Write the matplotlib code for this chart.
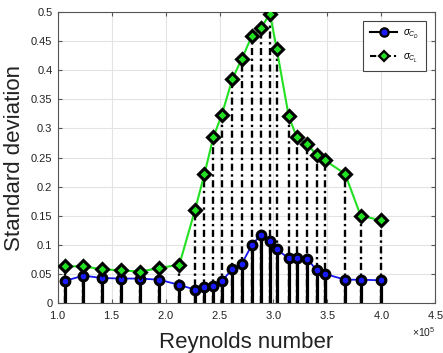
import numpy as np
import matplotlib
matplotlib.use("Agg")
import matplotlib.pyplot as plt
from matplotlib.ticker import ScalarFormatter

plt.rcParams['font.family'] = ['Liberation Sans', 'DejaVu Sans']
plt.rcParams['mathtext.fontset'] = 'custom'
plt.rcParams['mathtext.rm'] = 'Liberation Sans'
plt.rcParams['mathtext.it'] = 'Liberation Sans:italic'

# Reynolds number (x 1e5)
re = [1.065, 1.235, 1.405, 1.582, 1.761, 1.941, 2.127, 2.272, 2.359, 2.442,
      2.520, 2.619, 2.705, 2.798, 2.882, 2.968, 3.030, 3.142, 3.216, 3.315,
      3.402, 3.479, 3.665, 3.810, 4.000]
sigma_cd = [0.038, 0.047, 0.043, 0.042, 0.042, 0.040, 0.031, 0.023, 0.027, 0.029,
            0.038, 0.058, 0.067, 0.099, 0.117, 0.106, 0.092, 0.077, 0.077, 0.076,
            0.056, 0.050, 0.040, 0.040, 0.039]
sigma_cl = [0.063, 0.063, 0.058, 0.056, 0.054, 0.060, 0.066, 0.160, 0.221, 0.285,
            0.323, 0.385, 0.419, 0.458, 0.472, 0.497, 0.437, 0.321, 0.285, 0.273,
            0.254, 0.245, 0.222, 0.150, 0.142]

x = np.array(re) * 1e5
dashdot = (0, (3, 1.5, 1, 1.5))

fig = plt.figure(figsize=(4.43, 3.53), dpi=100)
ax = fig.add_axes([58/443, 1 - 303/353, (435-58)/443, (303-12)/353])

# stems
ax.vlines(x, 0, sigma_cl, colors='black', linestyles=dashdot, lw=1.7, zorder=2)
ax.vlines(x, 0, sigma_cd, colors='black', linestyles='-', lw=2.3, zorder=3)

# connecting lines
ax.plot(x, sigma_cl, color='#22e022', lw=1.5, zorder=4)
ax.plot(x, sigma_cd, color='#1515f0', lw=1.3, marker='+', ms=4, mew=0.8, zorder=4)

# markers
ax.plot(x, sigma_cd, ls='none', marker='o', ms=6.3, mfc='#1a1aff', mec='black', mew=2.2, zorder=5)
ax.plot(x, sigma_cl, ls='none', marker='D', ms=6, mfc='#22e022', mec='black', mew=2.2, zorder=5)

# legend proxies
h1, = ax.plot([], [], color='black', lw=1.5, marker='o', ms=6, mfc='#1a1aff', mec='black', mew=1.6)
h2, = ax.plot([], [], color='black', lw=1.5, ls=dashdot, marker='D', ms=5.5,
              mfc='#22e022', mec='black', mew=1.6)
leg = ax.legend([h1, h2], [r'$\sigma_{C_D}$', r'$\sigma_{C_L}$'], loc='upper right',
                fontsize=7, fancybox=False, framealpha=1, edgecolor='#444444',
                borderpad=0.7, labelspacing=1.1, handlelength=2.8, handletextpad=0.6,
                borderaxespad=0, bbox_to_anchor=(0.976, 0.969))
leg.get_frame().set_linewidth(0.8)

ax.set_xlim(1e5, 4.5e5)
ax.set_ylim(0, 0.5)
ax.set_xticks(np.arange(1, 4.51, 0.5) * 1e5)
ax.set_yticks(np.arange(0, 0.501, 0.05))
ax.set_yticklabels(['0', '0.05', '0.1', '0.15', '0.2', '0.25', '0.3', '0.35', '0.4', '0.45', '0.5'])
fmt = ScalarFormatter(useMathText=True)
fmt.set_powerlimits((0, 0))
ax.xaxis.set_major_formatter(fmt)
ax.xaxis.get_offset_text().set_fontsize(7.5)
ax.xaxis.get_offset_text().set_color('#333333')

ax.grid(True, color='#e3e3e3', lw=0.8)
ax.set_axisbelow(True)
ax.tick_params(direction='in', top=True, right=True, labelsize=8, length=3,
               color='#555555', labelcolor='#222222', pad=4)
for s in ax.spines.values():
    s.set_color('#555555')
    s.set_linewidth(0.8)

ax.set_xlabel('Reynolds number', fontsize=16, color='#222222', labelpad=8)
ax.set_ylabel('Standard deviation', fontsize=16, color='#222222', labelpad=4)

fig.savefig('out.png', dpi=100)
